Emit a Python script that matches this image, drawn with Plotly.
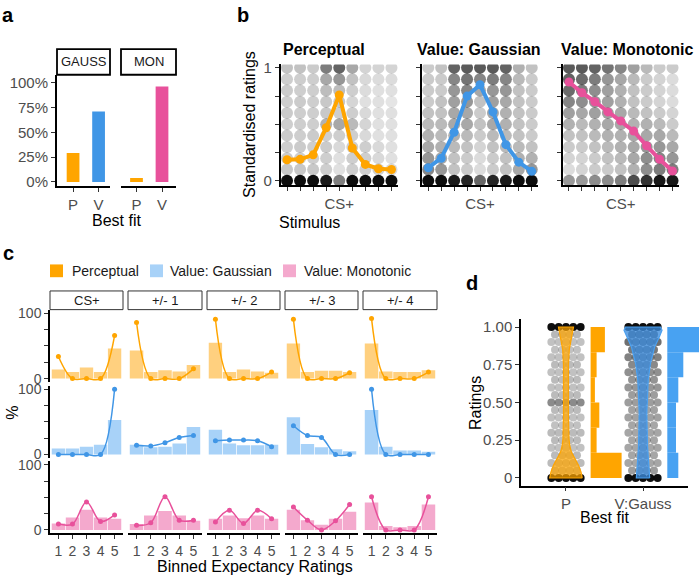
import plotly.graph_objects as go

W, H = 699, 578
FONT = "Liberation Sans, Arial, Helvetica, sans-serif"
ORANGE = "#FFA500"
BLUE = "#4096E6"
PINK = "#E8519B"
BLUE_HIST = "#48A2F2"
L_ORANGE = "#FFD07F"
L_BLUE = "#A8D2F8"
L_PINK = "#F4A9CD"
TICK_GREY = "#4D4D4D"

# ---------------- data: panel a ----------------
a_facets = ["GAUSS", "MON"]
a_fit = ["P", "V"]
a_gauss_pct = [29, 71]
a_mon_pct = [4, 96]

# ---------------- data: panel b ----------------
b_titles = ["Perceptual", "Value: Gaussian", "Value: Monotonic"]
b_stim = [1, 2, 3, 4, 5, 6, 7, 8, 9]
b_stim_labels = ["", "", "", "", "CS+", "", "", "", ""]
b_perc = [0.186, 0.19, 0.23, 0.47, 0.76, 0.29, 0.145, 0.107, 0.10]
b_gauss = [0.116, 0.20, 0.43, 0.75, 0.85, 0.61, 0.32, 0.165, 0.084]
b_mono = [0.875, 0.78, 0.70, 0.61, 0.53, 0.44, 0.31, 0.19, 0.087]
b_levels = [1.0, 0.9, 0.8, 0.7, 0.6, 0.5, 0.4, 0.3, 0.2, 0.1, 0.0]
# darkness of the raw-rating cloud per (level, stimulus)
b_cloud_perc = [
    [0.35, 0.35, 0.30, 0.75, 0.90, 0.50, 0.25, 0.25, 0.25],
    [0.28, 0.28, 0.28, 0.50, 0.60, 0.35, 0.22, 0.20, 0.20],
    [0.30, 0.28, 0.28, 0.38, 0.38, 0.28, 0.20, 0.18, 0.18],
    [0.28, 0.30, 0.28, 0.32, 0.32, 0.24, 0.18, 0.18, 0.15],
    [0.30, 0.28, 0.28, 0.32, 0.28, 0.28, 0.22, 0.18, 0.18],
    [0.28, 0.28, 0.28, 0.45, 0.50, 0.40, 0.24, 0.18, 0.18],
    [0.30, 0.28, 0.30, 0.28, 0.28, 0.28, 0.22, 0.18, 0.18],
    [0.28, 0.30, 0.28, 0.30, 0.22, 0.28, 0.28, 0.22, 0.18],
    [0.30, 0.28, 0.28, 0.28, 0.18, 0.28, 0.28, 0.22, 0.18],
    [0.32, 0.32, 0.32, 0.28, 0.18, 0.28, 0.28, 0.28, 0.22],
    [0.95, 0.95, 0.95, 0.90, 0.50, 0.95, 0.95, 0.95, 0.95],
]
b_cloud_gauss = [
    [0.30, 0.35, 0.90, 0.95, 0.95, 0.95, 0.90, 0.45, 0.35],
    [0.30, 0.30, 0.70, 0.80, 0.70, 0.75, 0.70, 0.40, 0.30],
    [0.30, 0.30, 0.60, 0.70, 0.50, 0.60, 0.60, 0.35, 0.30],
    [0.30, 0.35, 0.55, 0.60, 0.35, 0.55, 0.50, 0.35, 0.30],
    [0.35, 0.35, 0.50, 0.50, 0.30, 0.50, 0.45, 0.35, 0.30],
    [0.40, 0.40, 0.50, 0.50, 0.35, 0.50, 0.45, 0.35, 0.30],
    [0.45, 0.40, 0.45, 0.40, 0.30, 0.40, 0.40, 0.35, 0.30],
    [0.50, 0.45, 0.40, 0.35, 0.25, 0.35, 0.40, 0.40, 0.35],
    [0.60, 0.50, 0.35, 0.30, 0.20, 0.30, 0.35, 0.45, 0.45],
    [0.70, 0.60, 0.35, 0.30, 0.20, 0.30, 0.35, 0.50, 0.60],
    [0.95, 0.95, 0.90, 0.85, 0.60, 0.85, 0.90, 0.95, 0.95],
]
b_cloud_mono = [
    [0.95, 0.95, 0.90, 0.80, 0.70, 0.55, 0.40, 0.30, 0.30],
    [0.90, 0.85, 0.75, 0.60, 0.50, 0.40, 0.30, 0.25, 0.20],
    [0.85, 0.75, 0.65, 0.55, 0.45, 0.35, 0.30, 0.25, 0.20],
    [0.70, 0.65, 0.60, 0.55, 0.45, 0.35, 0.30, 0.25, 0.20],
    [0.55, 0.50, 0.55, 0.55, 0.50, 0.40, 0.35, 0.30, 0.25],
    [0.45, 0.40, 0.45, 0.50, 0.50, 0.45, 0.45, 0.40, 0.30],
    [0.35, 0.35, 0.40, 0.45, 0.45, 0.50, 0.50, 0.50, 0.40],
    [0.30, 0.30, 0.35, 0.40, 0.45, 0.50, 0.60, 0.60, 0.50],
    [0.25, 0.25, 0.30, 0.35, 0.40, 0.50, 0.65, 0.70, 0.60],
    [0.20, 0.25, 0.30, 0.30, 0.35, 0.45, 0.65, 0.75, 0.75],
    [0.40, 0.40, 0.45, 0.45, 0.50, 0.70, 0.80, 0.90, 0.90],
]

# ---------------- data: panel c ----------------
c_cols = ["CS+", "+/- 1", "+/- 2", "+/- 3", "+/- 4"]
c_series = ["Perceptual", "Value: Gaussian", "Value: Monotonic"]
c_bins = [1, 2, 3, 4, 5]
c_perc_bar = [[14, 10, 17, 10, 46], [43, 10, 13, 11, 21], [55, 10, 14, 11, 9],
              [54, 10, 12, 12, 10], [54, 11, 10, 10, 13]]
c_perc_line = [[34, 0, 0, 0, 66], [86, 0, 0, 0, 15], [91, 0, 0, 0, 10],
               [91, 0, 0, 0, 9], [92, 0, 0, 0, 10]]
c_gauss_bar = [[9, 9, 12, 15, 53], [15, 11, 12, 17, 42], [38, 17, 14, 14, 15],
               [57, 16, 11, 8, 5], [68, 12, 6, 6, 4]]
c_gauss_line = [[0, 0, 0, 0, 100], [14, 13, 18, 26, 29], [21, 22, 22, 21, 12],
                [44, 29, 26, 0, 0], [100, 0, 0, 0, 0]]
c_mono_bar = [[10, 19, 31, 19, 17], [9, 22, 29, 22, 14], [17, 22, 18, 22, 17],
              [31, 15, 8, 17, 28], [42, 6, 4, 6, 39]]
c_mono_line = [[9, 9, 43, 13, 23], [7, 11, 51, 15, 15], [12, 30, 10, 30, 17],
               [35, 15, 0, 14, 39], [51, 0, 0, 0, 51]]

# ---------------- data: panel d ----------------
d_fit = ["P", "V:Gauss"]
d_levels = [0.0, 0.05, 0.1, 0.15, 0.2, 0.25, 0.3, 0.35, 0.4, 0.45, 0.5,
            0.55, 0.6, 0.65, 0.7, 0.75, 0.8, 0.85, 0.9, 0.95, 1.0]
d_cloud_p = [0.95, 0.40, 0.38, 0.38, 0.35, 0.38, 0.38, 0.35, 0.35, 0.38, 0.65,
             0.38, 0.35, 0.38, 0.35, 0.38, 0.35, 0.35, 0.35, 0.40, 0.95]
d_cloud_v = [0.95, 0.55, 0.50, 0.50, 0.50, 0.50, 0.50, 0.50, 0.52, 0.52, 0.55,
             0.55, 0.58, 0.60, 0.62, 0.66, 0.70, 0.75, 0.80, 0.85, 0.95]
d_vio_p_levels = [0, 0.04, 0.085, 0.13, 0.17, 0.215, 0.26, 0.4, 0.6, 0.75, 0.85, 0.92, 0.96, 1.0]
d_vio_p_width = [16.3, 15, 12.5, 8.5, 5.5, 3.8, 3.0, 2.5, 2.3, 2.5, 3.3, 5, 6.5, 7.5]
d_vio_v_levels = [0, 0.06, 0.21, 0.43, 0.65, 0.76, 0.87, 0.934, 0.978, 1.0]
d_vio_v_width = [6.7, 6, 4.5, 3.8, 5.2, 7.5, 11.7, 16.3, 19, 17.5]
d_hist_bins = [1 / 12, 3 / 12, 5 / 12, 7 / 12, 9 / 12, 11 / 12]
d_hist_p = [31, 6, 8.7, 4.3, 6, 14.3]
d_hist_v = [11, 8.7, 8.7, 11, 16, 45]

# ---------------- style constants ----------------
B_OPACITY = 0.68          # darkness -> marker opacity in panel b
D_OPACITY = 0.7           # darkness -> marker opacity in panel d
D_JITTER = 0.19           # half-width of the jitter band in panel d (category units)
D_LANES_EVEN = [-1, -0.5, 0, 0.5, 1]
D_LANES_ODD = [-0.75, -0.25, 0.25, 0.75]
PXU = 77.0                # pixels per category unit on panel d's x scale


# ---------------- helpers ----------------
def xd(l, r):
    return [l / W, r / W]


def yd(t, b):
    return [1 - b / H, 1 - t / H]


def px(x):
    return x / W


def py(y):
    return 1 - y / H


def ref(c, n):
    return c if n == 1 else f"{c}{n}"


def key(c, n):
    return f"{c}axis" if n == 1 else f"{c}axis{n}"


def axis(domain, rng, n_anchor, letter, show=True, lw=1.5, fs=15, **kw):
    d = dict(domain=domain, range=rng, anchor=ref("y" if letter == "x" else "x", n_anchor),
             showgrid=False, zeroline=False, showline=show, linecolor="black",
             linewidth=lw, ticks="outside" if show else "", ticklen=4, tickwidth=1.2,
             tickcolor="#333333", tickfont=dict(size=fs, color=TICK_GREY, family=FONT),
             fixedrange=True, visible=show)
    d.update(kw)
    return d


fig = go.Figure()
layout = {}
shapes = []
ann = []


def text(x, y, s, size=16, bold=False, anchor="center", angle=0, color="black"):
    ann.append(dict(x=px(x), y=py(y), xref="paper", yref="paper", text=f"<b>{s}</b>" if bold else s,
                    showarrow=False, xanchor=anchor, yanchor="middle", textangle=angle,
                    font=dict(size=size, color=color, family=FONT)))


def strip(l, r, t, b, label, lw, lc):
    shapes.append(dict(type="rect", xref="paper", yref="paper", x0=px(l), x1=px(r), y0=py(b), y1=py(t),
                       line=dict(color=lc, width=lw), fillcolor="white", layer="above"))
    text((l + r) / 2, (t + b) / 2, label, size=13, color="#1a1a1a")


# ---------------- panel a ----------------
a_x = [(57, 110, [-0.63, 1.448]), (121, 176, [-0.608, 1.549])]
a_vals = [a_gauss_pct, a_mon_pct]
a_colors = [[ORANGE, BLUE], [ORANGE, PINK]]
for i in range(2):
    n = i + 1
    l, r, rng = a_x[i]
    layout[key("x", n)] = axis(xd(l, r), rng, n, "x", lw=2, tickvals=[0, 1], ticktext=a_fit)
    if i == 0:
        layout[key("y", n)] = axis(yd(71, 184), [-3.96, 107.9], n, "y", lw=2,
                                   tickvals=[0, 25, 50, 75, 100],
                                   ticktext=["0%", "25%", "50%", "75%", "100%"])
    else:
        layout[key("y", n)] = axis(yd(71, 184), [-3.96, 107.9], n, "y", show=False)
    fig.add_trace(go.Bar(x=[0, 1], y=a_vals[i], width=0.5, marker=dict(color=a_colors[i], line=dict(width=0)),
                         xaxis=ref("x", n), yaxis=ref("y", n)))
    strip(l, r, 45, 71, a_facets[i], 1.8, "black")
text(116.5, 219, "Best fit")
text(8, 10, "a", size=20, bold=True)

# ---------------- panel b ----------------
b_x = [(280.5, 398), (421.8, 538.2), (562.5, 679)]
b_lines = [b_perc, b_gauss, b_mono]
b_clouds = [b_cloud_perc, b_cloud_gauss, b_cloud_mono]
b_cols = [ORANGE, BLUE, PINK]
b_title_x = [281, 415, 559]
for i in range(3):
    n = i + 3
    l, r = b_x[i]
    layout[key("x", n)] = axis(xd(l, r), [0.5, 9.5], n, "x", tickvals=b_stim, ticktext=b_stim_labels)
    layout[key("y", n)] = axis(yd(60.5, 183.5), [-0.04, 1.03], n, "y",
                               tickvals=[0, 0.25, 0.5, 0.75, 1],
                               ticktext=["0", "", "", "", "1"] if i == 0 else [""] * 5)
    xs, ys, op = [], [], []
    for li, lev in enumerate(b_levels):
        for si, s in enumerate(b_stim):
            xs.append(s)
            ys.append(lev)
            op.append(min(1.0, b_clouds[i][li][si] * (B_OPACITY if lev > 0 else 1.0)))
    fig.add_trace(go.Scatter(x=xs, y=ys, mode="markers",
                             marker=dict(size=12, color="black", opacity=op, line=dict(width=0)),
                             xaxis=ref("x", n), yaxis=ref("y", n)))
    fig.add_trace(go.Scatter(x=b_stim, y=b_lines[i], mode="lines+markers",
                             line=dict(color=b_cols[i], width=4),
                             marker=dict(size=9, color=b_cols[i]),
                             xaxis=ref("x", n), yaxis=ref("y", n)))
    text(b_title_x[i], 45, b_titles[i], size=16, bold=True, anchor="left")
text(250, 122, "Standardised ratings", angle=-90)
text(309, 221, "Stimulus")
text(243, 10, "b", size=20, bold=True)

# ---------------- panel c ----------------
c_xdom = [(50, 123), (128, 202), (207, 280), (285, 358), (363, 437)]
c_ydom = [(310.5, 383.5), (387.7, 460.7), (464.5, 537.5)]
c_bar_sets = [c_perc_bar, c_gauss_bar, c_mono_bar]
c_line_sets = [c_perc_line, c_gauss_line, c_mono_line]
c_light = [L_ORANGE, L_BLUE, L_PINK]
c_dark = [ORANGE, BLUE, PINK]
for r in range(3):
    for j in range(5):
        n = 6 + r * 5 + j
        layout[key("x", n)] = axis(xd(*c_xdom[j]), [0.4, 5.6], n, "x", show=(r == 2), fs=14,
                                   tickvals=c_bins, ticktext=[str(b) for b in c_bins])
        layout[key("y", n)] = axis(yd(*c_ydom[r]), [-5, 105], n, "y", show=(j == 0), fs=14,
                                   tickvals=[0, 25, 50, 75, 100], ticktext=["0", "", "", "", "100"])
        fig.add_trace(go.Bar(x=c_bins, y=c_bar_sets[r][j], width=0.95,
                             marker=dict(color=c_light[r], line=dict(width=0)),
                             xaxis=ref("x", n), yaxis=ref("y", n)))
        fig.add_trace(go.Scatter(x=c_bins, y=c_line_sets[r][j], mode="lines+markers",
                                 line=dict(color=c_dark[r], width=1.5, shape="spline", smoothing=1),
                                 marker=dict(size=5, color=c_dark[r]),
                                 xaxis=ref("x", n), yaxis=ref("y", n)))
for j in range(5):
    strip(c_xdom[j][0], c_xdom[j][1], 291, 310, c_cols[j], 1, "#333333")
leg_x = [(50, 70), (150, 168), (283, 302)]
for k in range(3):
    shapes.append(dict(type="rect", xref="paper", yref="paper", x0=px(leg_x[k][0]), x1=px(leg_x[k][0] + 13),
                       y0=py(277), y1=py(264), line=dict(width=0), fillcolor=[ORANGE, L_BLUE, L_PINK][k]))
    text(leg_x[k][1], 270.5, c_series[k], size=14, anchor="left", color="#1a1a1a")
text(13, 415, "%", angle=-90)
text(255, 571, "Binned Expectancy Ratings")
text(8, 252, "c", size=20, bold=True)

# ---------------- panel d ----------------
layout[key("x", 21)] = axis(xd(521, 688), [-0.584, 1.584], 21, "x", tickvals=[0, 1], ticktext=d_fit)
layout[key("y", 21)] = axis(yd(320, 489), [-0.05, 1.05], 21, "y",
                            tickvals=[0, 0.25, 0.5, 0.75, 1], ticktext=["0", "0.25", "0.50", "0.75", "1.00"])
layout[key("x", 22)] = axis(xd(521, 699), [-0.584, -0.584 + 178 / PXU], 22, "x", show=False)
layout[key("x", 22)]["anchor"] = "y21"
for ci, cloud in enumerate([d_cloud_p, d_cloud_v]):
    xs, ys, op = [], [], []
    for li, lev in enumerate(d_levels):
        lanes = D_LANES_EVEN if li % 2 == 0 else D_LANES_ODD
        edge = lev in (0.0, 1.0)
        for m in lanes:
            xs.append(ci + m * D_JITTER)
            ys.append(lev)
            op.append(min(1.0, cloud[li] * (1.0 if edge else D_OPACITY)))
    fig.add_trace(go.Scatter(x=xs, y=ys, mode="markers",
                             marker=dict(size=8, color="black", opacity=op, line=dict(width=0)),
                             xaxis="x21", yaxis="y21"))
vio = [(0, d_vio_p_levels, d_vio_p_width, "rgba(255,165,0,0.72)", ORANGE),
       (1, d_vio_v_levels, d_vio_v_width, "rgba(60,140,220,0.78)", "#4AA0F0")]
for c, lev, wid, fc, lc in vio:
    xs = [c + w / PXU for w in wid] + [c - w / PXU for w in wid[::-1]]
    ys = list(lev) + list(lev[::-1])
    fig.add_trace(go.Scatter(x=xs + [xs[0]], y=ys + [ys[0]], mode="lines", fill="toself", fillcolor=fc,
                             line=dict(color=lc, width=1.2), xaxis="x21", yaxis="y21"))
for base, vals, col in [(0.32, d_hist_p, ORANGE), (1.316, d_hist_v, BLUE_HIST)]:
    fig.add_trace(go.Bar(y=d_hist_bins, x=[v / PXU for v in vals], base=base, width=1 / 6, orientation="h",
                         marker=dict(color=col, line=dict(width=0)), xaxis="x22", yaxis="y21"))
text(476, 405, "Ratings", angle=-90)
text(604, 522, "Best fit")
text(472, 283, "d", size=20, bold=True)

fig.update_layout(**layout)
fig.update_layout(width=W, height=H, margin=dict(l=0, r=0, t=0, b=0), showlegend=False,
                  paper_bgcolor="white", plot_bgcolor="rgba(0,0,0,0)", barmode="overlay",
                  shapes=shapes, annotations=ann, font=dict(family=FONT))
fig.write_html("out.html")
